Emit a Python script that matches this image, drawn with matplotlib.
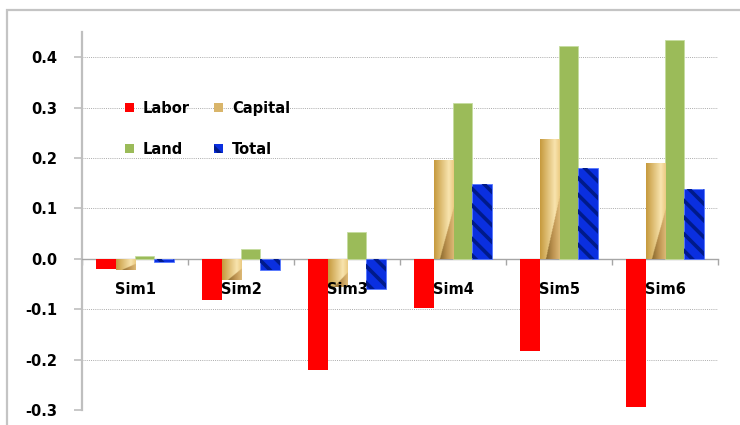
import numpy as np
import matplotlib.pyplot as plt
from matplotlib.patches import Rectangle, Patch
from matplotlib.colors import LinearSegmentedColormap

plt.rcParams['font.family'] = ['DejaVu Sans']
plt.rcParams['hatch.linewidth'] = 2.6

# data
categories = ["Sim1", "Sim2", "Sim3", "Sim4", "Sim5", "Sim6"]
labor = [-0.020, -0.081, -0.220, -0.097, -0.182, -0.295]
capital = [-0.023, -0.043, -0.055, 0.196, 0.238, 0.190]
land = [0.006, 0.020, 0.053, 0.309, 0.422, 0.434]
total = [-0.006, -0.023, -0.059, 0.148, 0.180, 0.138]
series_names = ["Labor", "Capital", "Land", "Total"]
yticks = [-0.3, -0.2, -0.1, 0.0, 0.1, 0.2, 0.3, 0.4]

W, H = 740, 425
fig = plt.figure(figsize=(W / 100, H / 100), dpi=100)
ax = fig.add_axes([82 / W, 1 - 410 / H, (718 - 82) / W, (410 - 32) / H])

# outer chart border (only top and left visible)
fig.patches.append(Rectangle((7 / W, -0.1), 1.2, 1.1 - 10 / H, transform=fig.transFigure,
                             fill=False, edgecolor='#C4C4C4', linewidth=1.6))

x = np.arange(len(categories))
bw = 0.182
offsets = (np.arange(4) - 1.5) * bw

ax.bar(x + offsets[0], labor, bw, color='#FF0000', zorder=3)
cap_bars = ax.bar(x + offsets[1], capital, bw, color='#E2C27A', zorder=3)
ax.bar(x + offsets[2], land, bw, color='#9BBB59', edgecolor='#C6DDA0', linewidth=0.6, zorder=3)
ax.bar(x + offsets[3], total, bw, color='#0A2FE0', edgecolor='#5577FF', linewidth=0.6, zorder=3)
ax.bar(x + offsets[3], total, bw, color='none', edgecolor='#001A8A', hatch='\\\\', linewidth=0, zorder=4)

# gold gradient with a diagonal fold for the capital bars
gold = LinearSegmentedColormap.from_list('gold', ['#C69A3E', '#F8E4AE', '#EBCB82'])
shade = LinearSegmentedColormap.from_list('shade', ['#8A6A2E', '#BC9250', '#DDB975'])
nx, ny = 60, 120
u = np.linspace(0, 1, nx)[None, :].repeat(ny, 0)
v = np.linspace(1, 0, ny)[:, None].repeat(nx, 1)
rgb = gold(np.clip(u / 0.75, 0, 1) * 0.5 + np.clip((u - 0.75) / 0.25, 0, 1) * 0.5)
mask = v < (u - 0.3) * 0.75
rgb[mask] = shade(np.clip((u[mask] - 0.3) / 0.7, 0, 1))
for b in cap_bars:
    x0, y0 = b.get_x(), b.get_y()
    w, h = b.get_width(), b.get_height()
    im = ax.imshow(rgb, extent=[x0, x0 + w, min(y0, y0 + h), max(y0, y0 + h)],
                   aspect='auto', zorder=3.5, interpolation='bilinear')
    im.set_clip_path(b)

ax.set_xlim(-0.5, len(categories) - 0.5)
ax.set_ylim(-0.3, 0.45)

for s in ['top', 'right']:
    ax.spines[s].set_visible(False)
ax.spines['left'].set_color('#BFBFBF')
ax.spines['left'].set_linewidth(1.6)
ax.spines['bottom'].set_position(('data', 0))
ax.spines['bottom'].set_color('#A6A6A6')
ax.spines['bottom'].set_linewidth(1.0)

ax.set_yticks(yticks)
ax.set_yticklabels([f"{t:.1f}" for t in yticks], fontweight='bold', fontsize=10.5)
ax.tick_params(axis='y', length=6, color='#BFBFBF', width=1.2, pad=12)
ax.set_xticks(np.arange(len(categories) + 1) - 0.5)
ax.set_xticklabels([])
ax.tick_params(axis='x', length=4, color='#A6A6A6', width=1.0, direction='out')
ax.yaxis.grid(True, linestyle=(0, (1, 1.2)), color='#ABABAB', linewidth=0.7, zorder=0)
ax.set_axisbelow(True)

for i, c in enumerate(categories):
    ax.text(i, -0.061, c, ha='center', va='center', fontsize=10.5, fontweight='bold', zorder=6)

handles = [Patch(facecolor='#FF0000'),
           Patch(facecolor='#D9B56A'),
           Patch(facecolor='#9BBB59'),
           Patch(facecolor='#0A2FE0', edgecolor='#001A8A', hatch='\\\\', linewidth=0)]
# order rows: Labor, Capital / Land, Total
leg = fig.legend([handles[0], handles[2], handles[1], handles[3]],
                 [series_names[0], series_names[2], series_names[1], series_names[3]],
                 ncol=2, loc='upper left', bbox_to_anchor=(125 / W, 1 - 101 / H), frameon=False,
                 handlelength=0.6, handleheight=0.6, handletextpad=0.6,
                 columnspacing=1.7, labelspacing=1.75, borderpad=0, borderaxespad=0,
                 prop={'weight': 'bold', 'size': 10.5})

fig.savefig("out.png", dpi=100)
